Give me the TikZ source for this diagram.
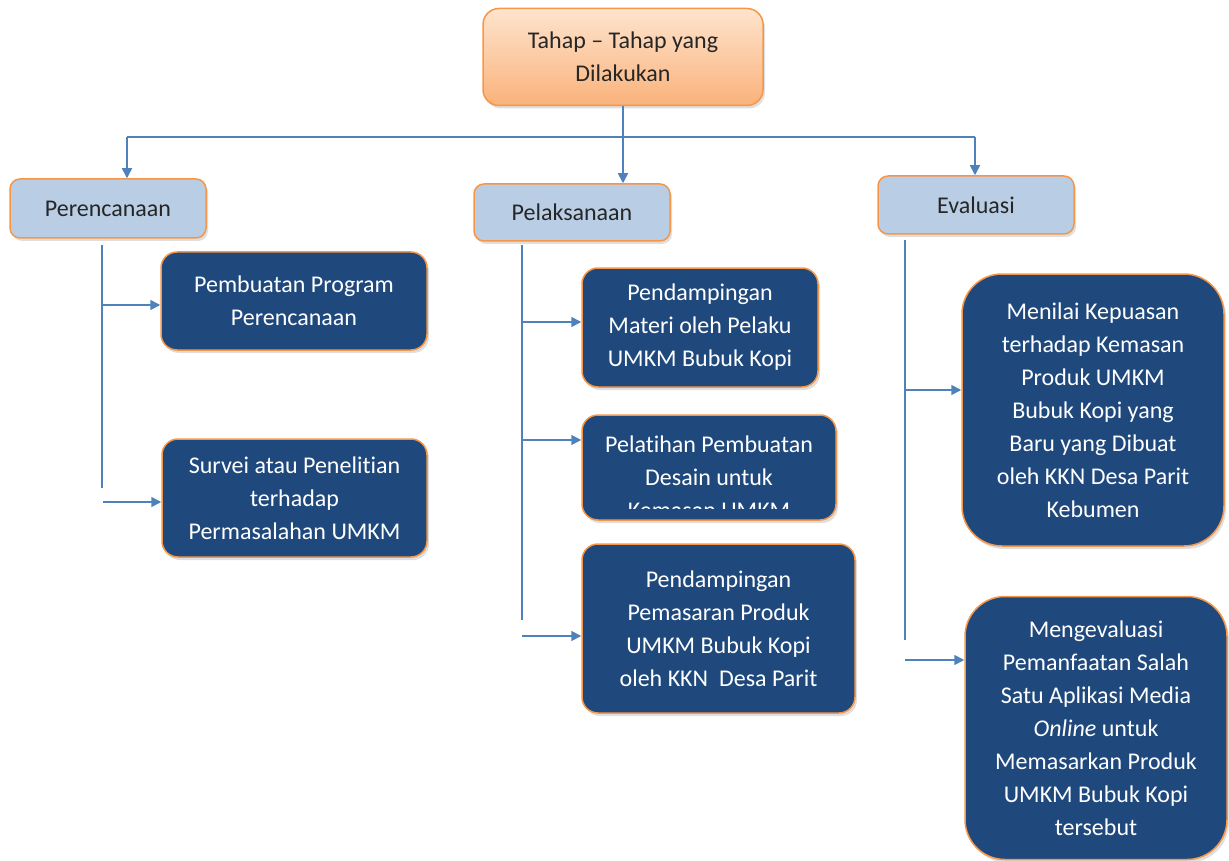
\documentclass[tikz,border=0pt]{standalone}
\usepackage{fontspec}
\setmainfont{Carlito}[Ligatures={TeX,NoCommon}]
\usetikzlibrary{arrows.meta,shadows}

\definecolor{linkblue}{HTML}{4F81BD}
\definecolor{navybox}{HTML}{1F497D}
\definecolor{edgeorange}{HTML}{F79646}
\definecolor{paleblue}{HTML}{B9CDE5}
\definecolor{peachtop}{HTML}{FEE4CD}
\definecolor{peachbot}{HTML}{FAB27B}

\tikzset{
  base/.style={draw=edgeorange, line width=1.5pt, align=center, inner sep=0pt,
    font=\fontsize{24}{33}\selectfont,
    drop shadow={opacity=0.25, shadow xshift=2pt, shadow yshift=-3pt}},
  rootbox/.style={base, rounded corners=16pt, top color=peachtop, bottom color=peachbot, text=black!85},
  phasebox/.style={base, rounded corners=10pt, fill=paleblue, text=black!85},
  taskbox/.style={base, rounded corners=16pt, fill=navybox, text=white},
  link/.style={draw=linkblue, line width=1.6pt},
  arrow/.style={link, -{Triangle[length=10pt,width=10pt]}},
}

\begin{document}
\begin{tikzpicture}[x=1pt,y=-1pt]
 \useasboundingbox (0,0) rectangle (1229,861);

 % top and the three phases
 \node[rootbox, minimum width=280pt, minimum height=97pt] (tahap) at (623,57) {Tahap -- Tahap yang\\Dilakukan};
 \node[phasebox, minimum width=196pt, minimum height=59pt] (rencana) at (108,208.5) {Perencanaan};
 \node[phasebox, minimum width=196pt, minimum height=57pt] (laksana) at (572,212.5) {Pelaksanaan};
 \node[phasebox, minimum width=196pt, minimum height=58pt] (evaluasi) at (976,205) {Evaluasi};

 % tasks
 \node[taskbox, minimum width=266pt, minimum height=98pt] (program) at (294,301) {Pembuatan Program\\Perencanaan};
 \node[taskbox, minimum width=265pt, minimum height=118pt] (survei) at (294.5,498) {Survei atau Penelitian\\terhadap\\Permasalahan UMKM};
 \node[taskbox, minimum width=236pt, minimum height=119pt] (materi) at (700,327.5) {Pendampingan\\Materi oleh Pelaku\\UMKM Bubuk Kopi};
 \node[taskbox, minimum width=254pt, minimum height=105pt] (desain) at (709,467.5) {};
 \begin{scope}
  \clip (584,417) rectangle (834,508);
  \node[anchor=north, text=white, align=center, inner sep=0pt, font=\fontsize{24}{33}\selectfont] (desainteks) at (709,436) {Pelatihan Pembuatan\\Desain untuk\\Kemasan UMKM};
 \end{scope}
 \node[taskbox, minimum width=273pt, minimum height=169pt] (pasar) at (718.5,628.5) {Pendampingan\\Pemasaran Produk\\UMKM Bubuk Kopi\\oleh KKN~ Desa Parit};
 \node[taskbox, rounded corners=40pt, minimum width=262pt, minimum height=272pt] (kepuasan) at (1093,410) {Menilai Kepuasan\\terhadap Kemasan\\Produk UMKM\\Bubuk Kopi yang\\Baru yang Dibuat\\oleh KKN Desa Parit\\Kebumen};
 \node[taskbox, rounded corners=40pt, minimum width=262pt, minimum height=263pt] (aplikasi) at (1096,728) {Mengevaluasi\\Pemanfaatan Salah\\Satu Aplikasi Media\\\textit{Online} untuk\\Memasarkan Produk\\UMKM Bubuk Kopi\\tersebut};

 % bus under the top box
 \coordinate (busL) at (127,137);
 \coordinate (busR) at (975,137);
 \draw[link] (busL) -- (busR);
 \draw[link] (tahap.south) -- (tahap.south |- busL);
 \draw[arrow] (busL) -- (busL |- rencana.north);
 \draw[arrow] (tahap.south |- busL) -- (tahap.south |- laksana.north);
 \draw[arrow] (busR) -- (busR |- evaluasi.north);

 % Perencanaan branch
 \coordinate (rTop) at (102,245);
 \coordinate (rEnd) at (102,488);
 \coordinate (rA) at (103,305);
 \coordinate (rB) at (103,502);
 \draw[link] (rTop) -- (rEnd);
 \draw[arrow] (rA) -- (rA -| program.west);
 \draw[arrow] (rB) -- (rB -| survei.west);

 % Pelaksanaan branch
 \coordinate (lTop) at (522,245);
 \coordinate (lEnd) at (522,620);
 \coordinate (lA) at (522,322);
 \coordinate (lB) at (522,440);
 \coordinate (lC) at (522,636);
 \draw[link] (lTop) -- (lEnd);
 \draw[arrow] (lA) -- (lA -| materi.west);
 \draw[arrow] (lB) -- (lB -| desain.west);
 \draw[arrow] (lC) -- (lC -| pasar.west);

 % Evaluasi branch
 \coordinate (eTop) at (905,240);
 \coordinate (eEnd) at (905,640);
 \coordinate (eA) at (905,390);
 \coordinate (eB) at (905,660);
 \draw[link] (eTop) -- (eEnd);
 \draw[arrow] (eA) -- (eA -| kepuasan.west);
 \draw[arrow] (eB) -- (eB -| aplikasi.west);
\end{tikzpicture}
\end{document}
